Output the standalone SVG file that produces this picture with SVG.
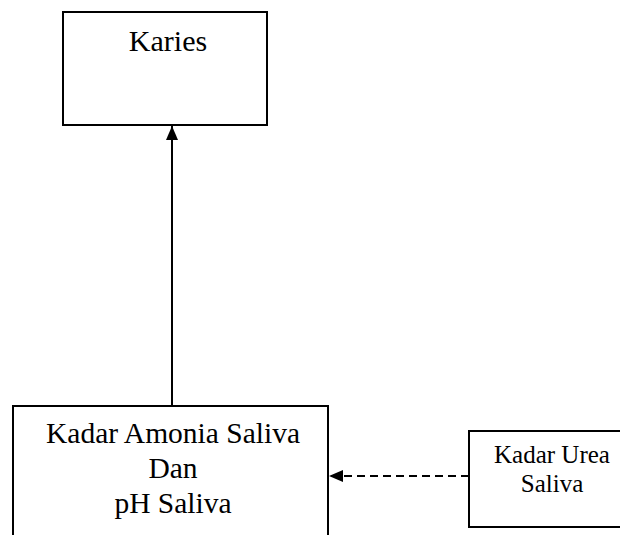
<svg xmlns="http://www.w3.org/2000/svg" width="620" height="535" viewBox="0 0 620 535">
<style>
.box{fill:#fff;stroke:#000;stroke-width:2}
.t{font-family:'Liberation Serif','Times New Roman','DejaVu Serif',serif;fill:#000;text-anchor:middle}
.ln{stroke:#000;stroke-width:2;fill:none}
</style>
<defs>
<marker id="ah" viewBox="0 0 14 12" refX="14" refY="6" markerWidth="14" markerHeight="12" markerUnits="userSpaceOnUse" orient="auto">
<path d="M0,0 L14,6 L0,12 Z" fill="#000"/>
</marker>
</defs>
<rect width="620" height="535" fill="#fff"/>
<g id="karies">
<rect class="box" x="63" y="12" width="204" height="113"/>
<text class="t" x="168" y="51" font-size="30">Karies</text>
</g>
<g id="amonia">
<rect class="box" x="13" y="406" width="315" height="140"/>
<text class="t" x="173" y="443" font-size="29.5">Kadar Amonia Saliva</text>
<text class="t" x="173" y="478" font-size="29.5">Dan</text>
<text class="t" x="173" y="513" font-size="29.5">pH Saliva</text>
</g>
<g id="urea">
<rect class="box" x="469" y="431" width="160" height="96"/>
<text class="t" x="552" y="463" font-size="25">Kadar Urea</text>
<text class="t" x="552" y="492" font-size="25">Saliva</text>
</g>
<g id="connectors">
<line class="ln" x1="172" y1="406" x2="172" y2="126" marker-end="url(#ah)"/>
<line class="ln" x1="469" y1="476" x2="329" y2="476" stroke-dasharray="8,5" marker-end="url(#ah)"/>
</g>
</svg>
